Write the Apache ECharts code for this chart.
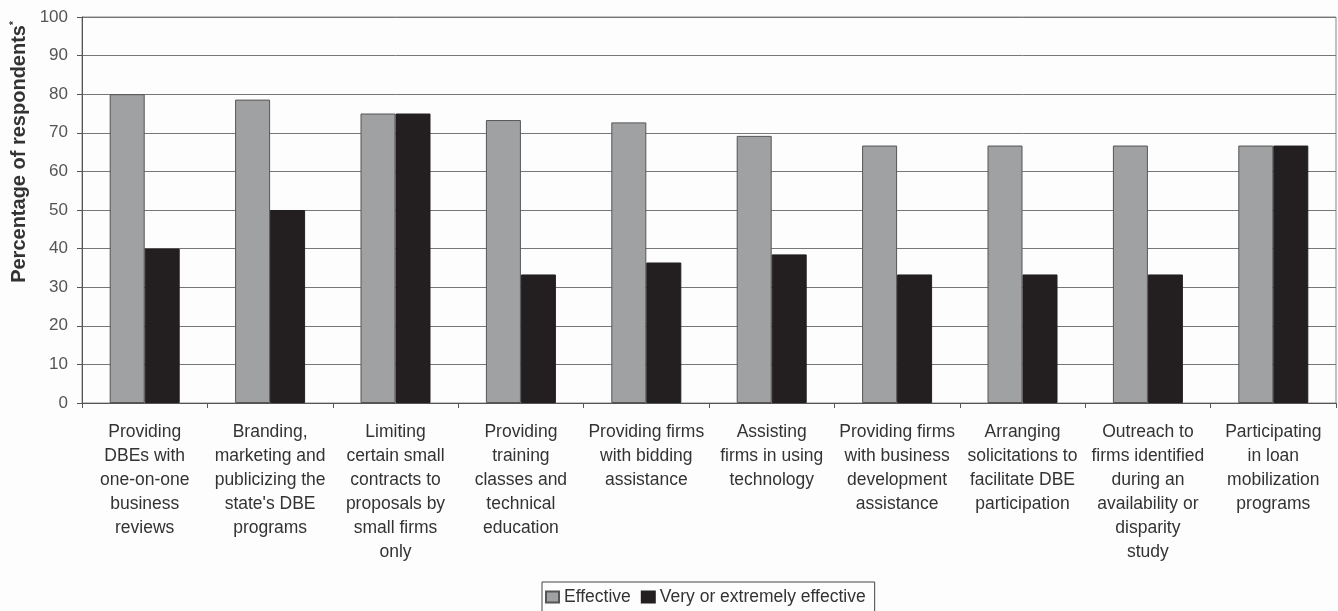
<!DOCTYPE html>
<html><head><meta charset="utf-8">
<script src="https://cdn.jsdelivr.net/npm/echarts@6/dist/echarts.min.js"></script>
<style>html,body{margin:0;padding:0;background:#fdfdfd}#c{width:1338px;height:611px}</style>
</head><body><div id="c"></div>
<script>
const categories = [
  "Providing\nDBEs with\none-on-one\nbusiness\nreviews",
  "Branding,\nmarketing and\npublicizing the\nstate's DBE\nprograms",
  "Limiting\ncertain small\ncontracts to\nproposals by\nsmall firms\nonly",
  "Providing\ntraining\nclasses and\ntechnical\neducation",
  "Providing firms\nwith bidding\nassistance",
  "Assisting\nfirms in using\ntechnology",
  "Providing firms\nwith business\ndevelopment\nassistance",
  "Arranging\nsolicitations to\nfacilitate DBE\nparticipation",
  "Outreach to\nfirms identified\nduring an\navailability or\ndisparity\nstudy",
  "Participating\nin loan\nmobilization\nprograms"
];
const effective = [80, 78.6, 75, 73.3, 72.7, 69.2, 66.7, 66.7, 66.7, 66.7];
const veryEffective = [40, 50, 75, 33.3, 36.4, 38.5, 33.3, 33.3, 33.3, 66.7];
const seriesNames = ["Effective", "Very or extremely effective"];
const yAxisTitle = "Percentage of respondents";

const chart = echarts.init(document.getElementById('c'));
const font = "'Liberation Sans', Arial, sans-serif";
chart.setOption({
  backgroundColor: '#fdfdfd',
  animation: false,
  grid: {left: 82, right: 2, top: 17, bottom: 208, show: true, borderColor: '#888', borderWidth: 1},
  legend: {
    data: seriesNames, left: 542, top: 582,
    itemWidth: 13, itemHeight: 11, itemGap: 10,
    borderColor: '#444', borderWidth: 1, padding: [6, 9, 10, 3],
    textStyle: {fontFamily: font, fontSize: 17.5, color: '#333'},
    icon: 'rect'
  },
  graphic: [{
    type: 'text', x: 19, y: 152, rotation: Math.PI / 2,
    style: {
      text: yAxisTitle + '{s|*}', align: 'center', verticalAlign: 'middle',
      font: "bold 20px 'Liberation Sans', Arial, sans-serif", fill: '#333',
      rich: {s: {font: "bold 10px 'Liberation Sans', Arial, sans-serif", fill: '#333', verticalAlign: 'top', padding: [0, 0, 10, 0]}}
    }
  }],
  xAxis: {
    type: 'category', data: categories,
    axisLine: {lineStyle: {color: '#555', width: 1}},
    axisTick: {show: true, length: 5, lineStyle: {color: '#555'}},
    axisLabel: {fontFamily: font, fontSize: 17.5, color: '#333', lineHeight: 24, margin: 17, interval: 0}
  },
  yAxis: {
    type: 'value', min: 0, max: 100, interval: 10,
    axisLine: {show: true, lineStyle: {color: '#555'}},
    axisTick: {show: true, inside: false, length: 5, lineStyle: {color: '#555'}},
    axisLabel: {fontFamily: font, fontSize: 17, color: '#555', margin: 14},
    splitLine: {lineStyle: {color: '#777', width: 1}}
  },
  series: [
    {name: seriesNames[0], type: 'bar', data: effective, barWidth: 35, barGap: '0%', barCategoryGap: '43%',
     itemStyle: {color: '#a0a1a3', borderColor: '#555', borderWidth: 1}},
    {name: seriesNames[1], type: 'bar', data: veryEffective, barWidth: 35,
     itemStyle: {color: '#231f20', borderColor: '#231f20', borderWidth: 1}}
  ]
});
</script></body></html>
